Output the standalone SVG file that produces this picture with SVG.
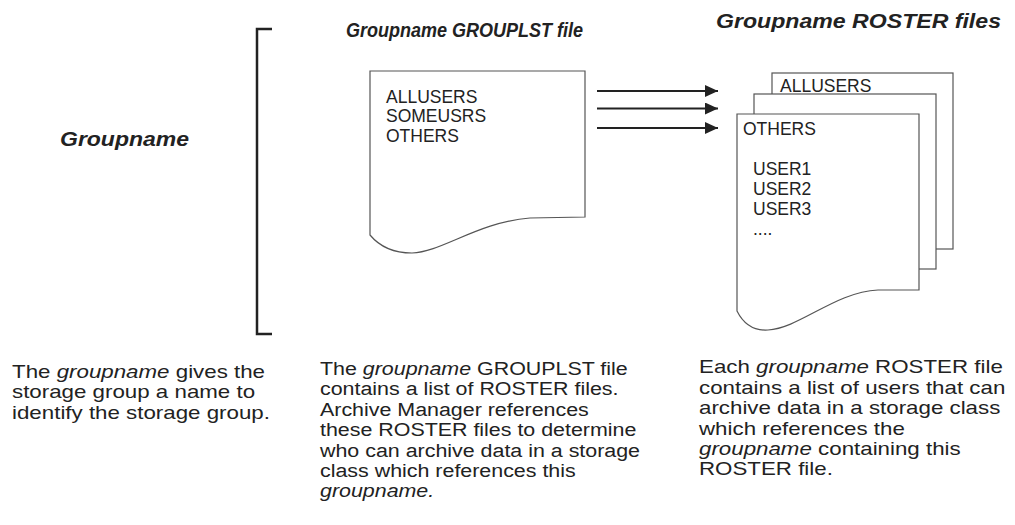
<svg xmlns="http://www.w3.org/2000/svg" width="1015" height="525" viewBox="0 0 1015 525">
<style>
.doc{fill:#fff;stroke:#555;stroke-width:1.2}
.dt{font-family:"Liberation Sans",Arial,sans-serif;font-size:17.5px;fill:#222}
.ttl{font-family:"Liberation Sans",Arial,sans-serif;font-size:20px;font-weight:bold;font-style:italic;fill:#222}
.body{font-family:"Liberation Sans",Arial,sans-serif;font-size:18px;fill:#222}
.it{font-style:italic}
.conn{stroke:#222;stroke-width:2.2;fill:none}
</style>
<defs>
<marker id="ah" markerWidth="13" markerHeight="12" refX="13" refY="6" orient="auto" markerUnits="userSpaceOnUse">
<path d="M0,0 L13,6 L0,12 Z" fill="#222"/>
</marker>
</defs>
<rect width="1015" height="525" fill="#fff"/>

<g id="bracket">
<path d="M272,29 L257,29 L257,334 L272,334" fill="none" stroke="#222" stroke-width="2.5"/>
</g>

<g id="groupname-label">
<text class="ttl" x="60" y="146" textLength="129" lengthAdjust="spacingAndGlyphs">Groupname</text>
</g>

<g id="title-grouplst">
<text class="ttl" x="346" y="37" textLength="237" lengthAdjust="spacingAndGlyphs">Groupname GROUPLST file</text>
</g>
<g id="title-roster">
<text class="ttl" x="716" y="28" font-size="19" textLength="285" lengthAdjust="spacingAndGlyphs">Groupname ROSTER files</text>
</g>

<g id="grouplst-doc">
<path class="doc" d="M370,71 L585,71 L585,217 L530,218 C478,222 442,252 412,253 C395,253 380,247 370,235 Z"/>
<text class="dt" x="386" y="103">ALLUSERS</text>
<text class="dt" x="386" y="122">SOMEUSRS</text>
<text class="dt" x="386" y="142">OTHERS</text>
</g>

<g id="roster-back">
<rect class="doc" x="772" y="73" width="181" height="176"/>
<text class="dt" x="780" y="92">ALLUSERS</text>
</g>
<g id="roster-middle">
<rect class="doc" x="754" y="94" width="182" height="175"/>
</g>
<g id="roster-front">
<path class="doc" d="M737,114 L919,114 L919,290 L878,290 C835,292 800,328 768,330 C753,331 743,323 737,311 Z"/>
<text class="dt" x="743" y="135">OTHERS</text>
<text class="dt" x="753" y="175">USER1</text>
<text class="dt" x="753" y="195">USER2</text>
<text class="dt" x="753" y="215">USER3</text>
<text class="dt" x="753" y="235">....</text>
</g>

<g id="connectors">
<line class="conn" x1="597" y1="91" x2="718" y2="91" marker-end="url(#ah)"/>
<line class="conn" x1="597" y1="108.5" x2="718" y2="108.5" marker-end="url(#ah)"/>
<line class="conn" x1="597" y1="128" x2="718" y2="128" marker-end="url(#ah)"/>
</g>

<g id="desc-groupname" transform="translate(12,0) scale(1.24,1)">
<text class="body" x="0" y="378">The <tspan class="it">groupname</tspan> gives the</text>
<text class="body" x="0" y="398.5">storage group a name to</text>
<text class="body" x="0" y="419">identify the storage group.</text>
</g>

<g id="desc-grouplst" transform="translate(320,0) scale(1.19,1)">
<text class="body" x="0" y="375">The <tspan class="it">groupname</tspan> GROUPLST file</text>
<text class="body" x="0" y="395.4">contains a list of ROSTER files.</text>
<text class="body" x="0" y="415.8">Archive Manager references</text>
<text class="body" x="0" y="436.2">these ROSTER files to determine</text>
<text class="body" x="0" y="456.6">who can archive data in a storage</text>
<text class="body" x="0" y="477">class which references this</text>
<text class="body it" x="0" y="497.4">groupname.</text>
</g>

<g id="desc-roster" transform="translate(699,0) scale(1.24,1)">
<text class="body" x="0" y="373.5">Each <tspan class="it">groupname</tspan> ROSTER file</text>
<text class="body" x="0" y="393.9">contains a list of users that can</text>
<text class="body" x="0" y="414.3">archive data in a storage class</text>
<text class="body" x="0" y="434.7">which references the</text>
<text class="body" x="0" y="455.1"><tspan class="it">groupname</tspan> containing this</text>
<text class="body" x="0" y="475.5">ROSTER file.</text>
</g>
</svg>
